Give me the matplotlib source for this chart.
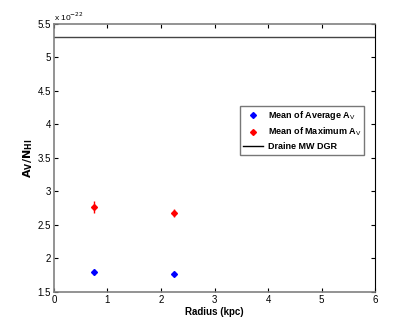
import matplotlib
matplotlib.use('Agg')
import matplotlib.pyplot as plt
from matplotlib.lines import Line2D

# data (units of 1e-22)
radius = [0.75, 2.25]
mean_avg = [1.80, 1.77]
mean_avg_err = [0.04, 0.025]
mean_max = [2.77, 2.675]
mean_max_err = [0.085, 0.06]
draine_dgr = 5.3

plt.rcParams['font.family'] = 'Liberation Sans'
plt.rcParams['font.size'] = 7

fig = plt.figure(figsize=(4.15, 3.28), dpi=100)
ax = fig.add_axes([0.130, 0.110, 0.774, 0.817])

ax.errorbar(radius, mean_avg, yerr=mean_avg_err, fmt='D', color='blue',
            ms=3, elinewidth=1, capsize=0)
ax.errorbar(radius, mean_max, yerr=mean_max_err, fmt='D', color='red',
            ms=3, elinewidth=1, capsize=0)
ax.axhline(draine_dgr, color='#444444', lw=1)

ax.set_xlim(0, 6)
ax.set_ylim(1.5, 5.5)
ax.set_xticks(range(0, 7))
ax.set_yticks([1.5, 2, 2.5, 3, 3.5, 4, 4.5, 5, 5.5])
ax.set_yticklabels(['1.5', '2', '2.5', '3', '3.5', '4', '4.5', '5', '5.5'])
ax.tick_params(direction='in', top=True, right=True, length=3, width=0.8,
               labelsize=7, pad=2)
for s in ['left', 'bottom', 'top']:
    ax.spines[s].set_color('#808080')
    ax.spines[s].set_linewidth(1.2)
ax.spines['right'].set_color('black')

ax.set_xlabel('Radius (kpc)', fontweight='bold', fontsize=7, labelpad=2)
ax.set_ylabel(r'$\mathbf{A_V/N_{HI}}$', fontsize=8, labelpad=2)
ax.text(0, 1.005, r'x 10$^{-22}$', transform=ax.transAxes, fontsize=6,
        va='bottom', ha='left')

handles = [
    Line2D([], [], marker='D', color='blue', ls='none', ms=3),
    Line2D([], [], marker='D', color='red', ls='none', ms=3),
    Line2D([], [], color='black', lw=1),
]
labels = [r'Mean of Average A$_\mathrm{V}$', r'Mean of Maximum A$_\mathrm{V}$',
          'Draine MW DGR']
leg = ax.legend(handles, labels, loc='upper left',
                bbox_to_anchor=(0.58, 0.695), fontsize=6.5,
                frameon=True, fancybox=False, edgecolor='#555555',
                borderpad=0.35, labelspacing=0.45, handlelength=2.2,
                handletextpad=0.5, borderaxespad=0)
leg.get_frame().set_linewidth(1.0)
for t in leg.get_texts():
    t.set_fontweight('bold')

fig.savefig('out.png', dpi=100)
